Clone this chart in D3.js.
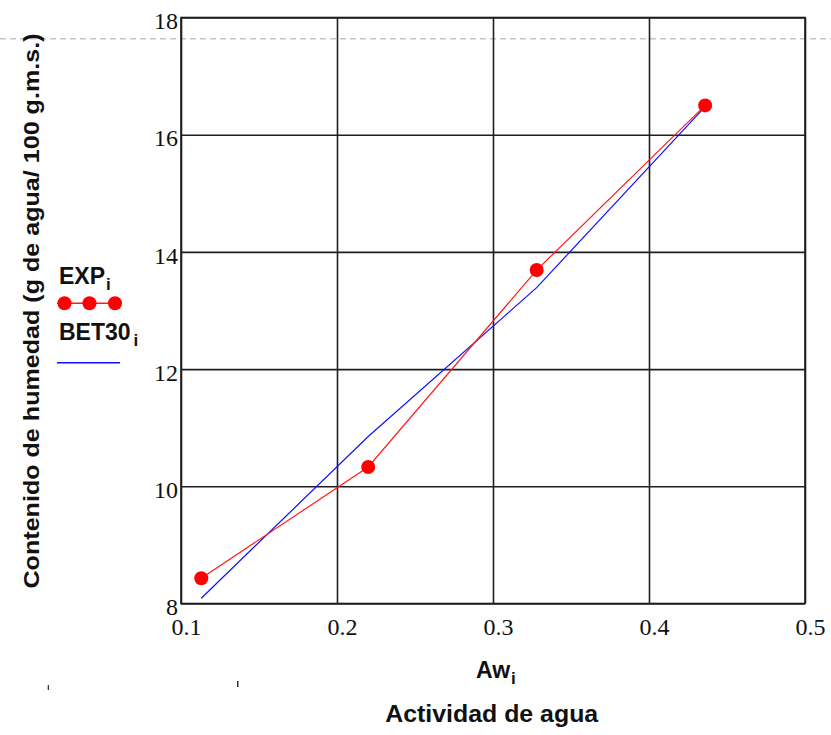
<!DOCTYPE html>
<html><head><meta charset="utf-8">
<script src="https://cdn.jsdelivr.net/npm/d3@7"></script>
<style>
html,body{margin:0;padding:0;background:#fff;}
svg{display:block;}
</style></head>
<body>
<svg id="chart" width="831" height="735"></svg>
<script>
// ---- data ----
const awValues = [0.113, 0.22, 0.328, 0.436];
const expValues = [8.43, 10.33, 13.69, 16.50];
const bet30Values = [8.09, 10.85, 13.39, 16.48];
const xTicks = [0.1, 0.2, 0.3, 0.4, 0.5];
const yTicks = [8, 10, 12, 14, 16, 18];
const yTitle = "Contenido de humedad (g de agua/ 100 g.m.s.)";
const xTitle = "Actividad de agua";

const svg = d3.select("#chart");
const L = 181, R = 805, T = 17.5, B = 603.5;
const x = d3.scaleLinear().domain([0.1, 0.5]).range([L, R]);
const y = d3.scaleLinear().domain([8, 18]).range([B, T]);

// dashed reference line across the page
svg.append("line").attr("x1", 0).attr("x2", 831).attr("y1", 38.7).attr("y2", 38.7)
  .attr("stroke", "#c4c4c4").attr("stroke-width", 1.5).attr("stroke-dasharray", "6,4");

const gridColor = "#1e1e1e";
// y axis with grid
const gy = svg.append("g").attr("transform", `translate(${L},0)`)
  .call(d3.axisLeft(y).tickValues(yTicks).tickFormat(d3.format("d"))
    .tickSizeInner(-(R - L)).tickSizeOuter(0).tickPadding(4));
gy.select(".domain").remove();
gy.selectAll(".tick line").attr("stroke", gridColor).attr("stroke-width", 1.6);
gy.selectAll(".tick text").attr("font-family", "'Liberation Serif', 'Times New Roman', serif")
  .attr("font-size", 24).attr("fill", "#111").attr("dy", "0.47em").attr("x", -3);

// x axis with grid
const gx = svg.append("g").attr("transform", `translate(0,${B})`)
  .call(d3.axisBottom(x).tickValues(xTicks).tickFormat(d3.format(".1f"))
    .tickSizeInner(-(B - T)).tickSizeOuter(0).tickPadding(14));
gx.select(".domain").remove();
gx.selectAll(".tick line").attr("stroke", gridColor).attr("stroke-width", 1.6);
gx.selectAll(".tick text").attr("font-family", "'Liberation Serif', 'Times New Roman', serif")
  .attr("font-size", 24).attr("fill", "#111").attr("dx", 5);

// frame
svg.append("rect").attr("x", L).attr("y", T).attr("width", R - L).attr("height", B - T)
  .attr("fill", "none").attr("stroke", gridColor).attr("stroke-width", 1.6);

// BET30 line
const line = d3.line().x((d, i) => x(awValues[i])).y(d => y(d));
svg.append("path").datum(bet30Values).attr("d", line)
  .attr("fill", "none").attr("stroke", "#1010ff").attr("stroke-width", 1.2);
// EXP line + markers
svg.append("path").datum(expValues).attr("d", line)
  .attr("fill", "none").attr("stroke", "#ff1a1a").attr("stroke-width", 1.2);
svg.append("g").selectAll("circle").data(expValues).join("circle")
  .attr("cx", (d, i) => x(awValues[i])).attr("cy", d => y(d)).attr("r", 7)
  .attr("fill", "#ff0000");

// legend
const sans = "'Liberation Sans', Arial, sans-serif";
const leg = svg.append("g").attr("font-family", sans).attr("font-weight", "bold").attr("fill", "#111");
const t1 = leg.append("text").attr("x", 59).attr("y", 284).attr("font-size", 23);
t1.append("tspan").text("EXP");
t1.append("tspan").attr("font-size", 17).attr("dy", 6).attr("dx", 1).text("i");
leg.append("line").attr("x1", 57).attr("x2", 122).attr("y1", 303.3).attr("y2", 303.3)
  .attr("stroke", "#ff1a1a").attr("stroke-width", 1.5);
[64.5, 89.5, 115].forEach(cx => leg.append("circle").attr("cx", cx).attr("cy", 303.3).attr("r", 7).attr("fill", "#ff0000"));
const t2 = leg.append("text").attr("x", 59).attr("y", 340).attr("font-size", 23);
t2.append("tspan").text("BET30");
t2.append("tspan").attr("font-size", 17).attr("dy", 6).attr("dx", 3).text("i");
leg.append("line").attr("x1", 57).attr("x2", 120).attr("y1", 362.7).attr("y2", 362.7)
  .attr("stroke", "#1010ff").attr("stroke-width", 1.5);

// axis titles
svg.append("text").attr("transform", "translate(39,311) rotate(-90)")
  .attr("text-anchor", "middle").attr("font-family", sans).attr("font-weight", "bold")
  .attr("font-size", 22).attr("fill", "#111")
  .attr("textLength", 555).attr("lengthAdjust", "spacingAndGlyphs").text(yTitle);
const aw = svg.append("text").attr("x", 476).attr("y", 677.5).attr("font-family", sans)
  .attr("font-weight", "bold").attr("font-size", 23).attr("fill", "#111");
aw.append("tspan").text("Aw");
aw.append("tspan").attr("font-size", 17).attr("dy", 6).attr("dx", 1).text("i");
svg.append("text").attr("x", 491.7).attr("y", 721.7).attr("text-anchor", "middle")
  .attr("font-family", sans).attr("font-weight", "bold").attr("font-size", 23)
  .attr("textLength", 213).attr("lengthAdjust", "spacingAndGlyphs")
  .attr("fill", "#111").text(xTitle);

// small stray marks
svg.append("rect").attr("x", 47.7).attr("y", 685).attr("width", 1.3).attr("height", 5).attr("fill", "#5a2a1a");
svg.append("rect").attr("x", 237).attr("y", 681).attr("width", 1.5).attr("height", 6).attr("fill", "#2a2a4a");
</script>
</body></html>
